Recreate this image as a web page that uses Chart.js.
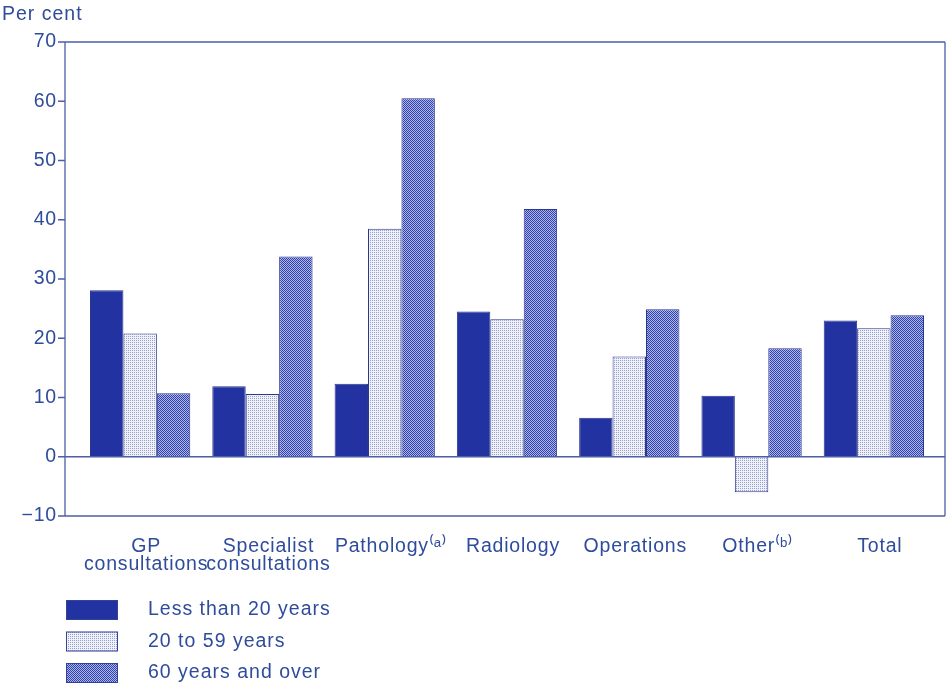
<!DOCTYPE html>
<html>
<head>
<meta charset="utf-8">
<script src="https://cdn.jsdelivr.net/npm/chart.js@4"></script>
<style>
  html, body { margin: 0; padding: 0; background: #fff; }
  #wrap { width: 947px; height: 687px; position: relative; }
</style>
</head>
<body>
<div id="wrap"><canvas id="chart"></canvas></div>
<script>
const categories = [
  ["GP", "consultations"],
  ["Specialist", "consultations"],
  "Pathology\u207D\u1D43\u207E",
  "Radiology",
  "Operations",
  "Other\u207D\u1D47\u207E",
  "Total",
];
const seriesLabels = ["Less than 20 years", "20 to 59 years", "60 years and over"];
const under20 = [28.1, 11.9, 12.3, 24.5, 6.6, 10.3, 23.0];
const age20to59 = [20.8, 10.6, 38.5, 23.2, 16.9, -6.0, 21.7];
const age60plus = [10.7, 33.8, 60.5, 41.8, 24.9, 18.3, 23.9];
const yTicks = [-10, 0, 10, 20, 30, 40, 50, 60, 70];

const textColor = "#2f4c9c";
const lineColor = "#4d5ea6";
const FONT = "'Liberation Sans', Arial, sans-serif";
const FSIZE = 19.5;

function makePattern(size, draw) {
  const c = document.createElement("canvas");
  c.width = size;
  c.height = size;
  draw(c.getContext("2d"));
  return c.getContext("2d").createPattern(c, "repeat");
}

const solidFill = "#2232a0";
const dottedFill = makePattern(2, (g) => {
  g.fillStyle = "#f1f2f8";
  g.fillRect(0, 0, 2, 2);
  g.fillStyle = "#959ecf";
  g.fillRect(0, 0, 1, 1);
});
const checkFill = makePattern(2, (g) => {
  g.fillStyle = "#aeb6e6";
  g.fillRect(0, 0, 2, 2);
  g.fillStyle = "#3142ae";
  g.fillRect(0, 0, 1, 1);
  g.fillRect(1, 1, 1, 1);
});
const fills = [solidFill, dottedFill, checkFill];

// wider letter spacing like the printed original
const spacingPlugin = {
  id: "spacing",
  beforeDraw(chart) {
    chart.ctx.letterSpacing = "0.8px";
  },
};

// frame, tick marks, "Per cent" and the legend
const decorPlugin = {
  id: "decor",
  afterDraw(chart) {
    const ctx = chart.ctx;
    const y = chart.scales.y;
    const left = 65, right = 945;
    const top = y.getPixelForValue(70);
    const bottom = y.getPixelForValue(-10);
    const zero = y.getPixelForValue(0);
    ctx.save();
    ctx.letterSpacing = "1px";
    ctx.strokeStyle = lineColor;
    ctx.lineWidth = 1.3;
    ctx.beginPath();
    ctx.moveTo(left, top); ctx.lineTo(right, top);
    ctx.moveTo(left, bottom); ctx.lineTo(right, bottom);
    ctx.moveTo(left, zero); ctx.lineTo(right, zero);
    ctx.moveTo(left, top); ctx.lineTo(left, bottom);
    ctx.moveTo(right, top); ctx.lineTo(right, bottom);
    yTicks.forEach((v) => {
      const py = y.getPixelForValue(v);
      ctx.moveTo(left - 7, py); ctx.lineTo(left, py);
    });
    ctx.stroke();

    ctx.fillStyle = textColor;
    ctx.font = FSIZE + "px " + FONT;
    ctx.textBaseline = "middle";
    ctx.textAlign = "left";
    ctx.fillText("Per cent", 2, 15);

    // legend
    chart.data.datasets.forEach((ds, i) => {
      const by = 600 + i * 31.5;
      ctx.fillStyle = ds.backgroundColor;
      ctx.fillRect(66, by, 52, 20);
      ctx.strokeStyle = "#34439a";
      ctx.lineWidth = 1;
      ctx.strokeRect(66.5, by + 0.5, 51, 19);
      ctx.fillStyle = textColor;
      ctx.fillText(ds.label, 148, by + 10);
    });
    ctx.restore();
  },
};

new Chart(document.getElementById("chart"), {
  type: "bar",
  data: {
    labels: categories,
    datasets: [under20, age20to59, age60plus].map((d, i) => ({
      label: seriesLabels[i],
      data: d,
      backgroundColor: fills[i],
      borderColor: "#2a3790",
      borderWidth: 1,
      barPercentage: 1,
      categoryPercentage: 0.82,
    })),
  },
  options: {
    responsive: true,
    maintainAspectRatio: false,
    animation: false,
    layout: { padding: { left: 0, right: 12, top: 42, bottom: 0 } },
    plugins: {
      legend: { display: false },
      tooltip: { enabled: false },
    },
    scales: {
      x: {
        grid: { display: false, drawTicks: false },
        border: { display: false },
        ticks: {
          color: textColor,
          font: { family: FONT, size: FSIZE, lineHeight: 0.95 },
          padding: 21,
          labelOffset: 6,
          maxRotation: 0,
          autoSkip: false,
        },
        afterFit(scale) { scale.height = 171; },
      },
      y: {
        min: -10,
        max: 70,
        grid: { display: false, drawTicks: false },
        border: { display: false },
        ticks: {
          stepSize: 10,
          color: textColor,
          font: { family: FONT, size: FSIZE },
          padding: 22,
          callback: (v) => (v < 0 ? "\u2212" + Math.abs(v) : v),
        },
        afterFit(scale) { scale.width = 79; },
      },
    },
  },
  plugins: [spacingPlugin, decorPlugin],
});
</script>
</body>
</html>
